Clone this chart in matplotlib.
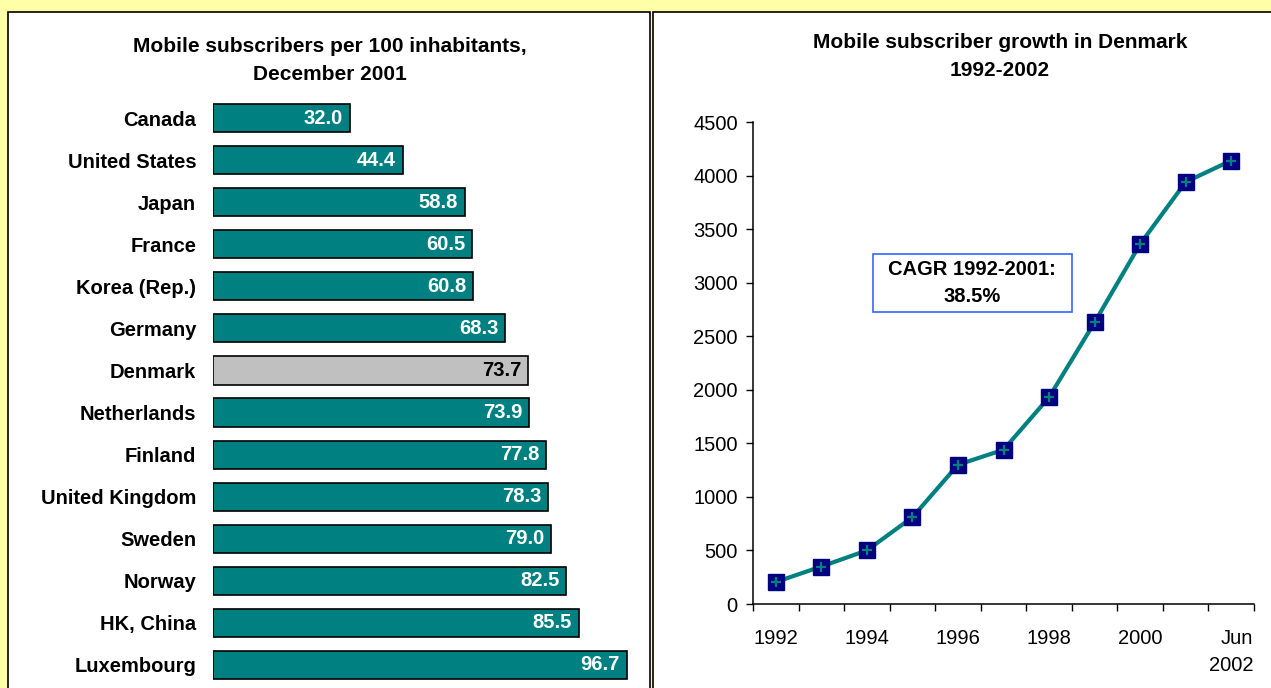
import matplotlib
matplotlib.use("Agg")
import matplotlib.pyplot as plt
from matplotlib.patches import Rectangle
import numpy as np

plt.rcParams['font.family'] = ['Liberation Sans', 'DejaVu Sans']

countries = ["Canada", "United States", "Japan", "France", "Korea (Rep.)", "Germany",
             "Denmark", "Netherlands", "Finland", "United Kingdom", "Sweden", "Norway",
             "HK, China", "Luxembourg"]
subs_per_100 = [32.0, 44.4, 58.8, 60.5, 60.8, 68.3, 73.7, 73.9, 77.8, 78.3, 79.0, 82.5, 85.5, 96.7]
highlight = "Denmark"

years = ["1992", "1993", "1994", "1995", "1996", "1997", "1998", "1999", "2000", "2001", "Jun\n2002"]
subscribers_k = [205, 350, 500, 810, 1300, 1440, 1930, 2630, 3360, 3940, 4140]
year_labels_shown = ["1992", "1994", "1996", "1998", "2000", "Jun\n2002"]
cagr_text = "CAGR 1992-2001:\n38.5%"

W, H = 1271, 688
fig = plt.figure(figsize=(W / 100, H / 100), dpi=100)
fig.patch.set_facecolor("#FFFFA8")

def fx(px):
    return px / W

def fy(py):
    return 1 - py / H

BOLD = 14.5
TITLE = 15
REG = 14.5

# panels (behind axes)
fig.patches.append(Rectangle((fx(8), fy(700)), fx(650) - fx(8), fy(12) - fy(700),
                             transform=fig.transFigure, facecolor="white", edgecolor="black",
                             linewidth=1.2, zorder=-10))
fig.patches.append(Rectangle((fx(653), fy(700)), fx(1290) - fx(653), fy(12) - fy(700),
                             transform=fig.transFigure, facecolor="white", edgecolor="black",
                             linewidth=1.2, zorder=-10))

teal = "#008080"
navy = "#000080"

# ---- left bar chart ----
ax1 = fig.add_axes([fx(213), fy(686), fx(641) - fx(213), fy(97) - fy(686)])
ax1.set_facecolor("none")
n = len(countries)
ypos = np.arange(n)
colors = ["#C0C0C0" if c == highlight else teal for c in countries]
ax1.barh(ypos, subs_per_100, height=0.67, color=colors, edgecolor="black", linewidth=1.2)
ax1.set_xlim(0, 100)
ax1.set_ylim(n - 0.5, -0.5)
ax1.set_yticks(ypos)
ax1.set_yticklabels(countries, fontsize=BOLD, fontweight="bold")
ax1.tick_params(axis="y", length=0, pad=12)
ax1.set_xticks([])
for s in ax1.spines.values():
    s.set_visible(False)
for i, (c, v) in enumerate(zip(countries, subs_per_100)):
    ax1.text(v - 1.6, i, f"{v:.1f}", ha="right", va="center", fontsize=BOLD, fontweight="bold",
             color="black" if c == highlight else "white")

fig.text(fx(330), fy(46), "Mobile subscribers per 100 inhabitants,", ha="center", va="center",
         fontsize=TITLE, fontweight="bold")
fig.text(fx(330), fy(74), "December 2001", ha="center", va="center",
         fontsize=TITLE, fontweight="bold")

# ---- right line chart ----
ax2 = fig.add_axes([fx(753), fy(604), fx(1254) - fx(753), fy(122) - fy(604)])
ax2.set_facecolor("none")
xs = np.arange(len(years))
ax2.plot(xs, subscribers_k, color=teal, linewidth=3.0, zorder=2)
ax2.plot(xs, subscribers_k, linestyle="none", marker="s", markersize=11.5, color=navy,
         markeredgecolor=navy, zorder=3)
ax2.plot(xs, subscribers_k, linestyle="none", marker="+", markersize=7.5, color=teal,
         markeredgewidth=1.6, zorder=4)
ax2.set_xlim(-0.5, len(years) - 0.5)
ax2.set_ylim(0, 4500)
ax2.set_yticks(np.arange(0, 4501, 500))
ax2.tick_params(axis="y", direction="out", length=5, width=1, labelsize=REG, pad=6)
ax2.set_xticks(np.arange(-0.5, len(years), 1.0))
ax2.set_xticklabels([])
ax2.tick_params(axis="x", which="major", direction="out", length=5, width=1)
shown_idx = [years.index(y) for y in year_labels_shown]
ax2.set_xticks(shown_idx, minor=True)
ax2.set_xticklabels(year_labels_shown, minor=True, fontsize=REG, multialignment="right")
ax2.tick_params(axis="x", which="minor", length=0, pad=18)
for lbl in ax2.get_xticklabels(minor=True):
    lbl.set_linespacing(1.55)
ax2.spines["top"].set_visible(False)
ax2.spines["right"].set_visible(False)
for s in ["left", "bottom"]:
    ax2.spines[s].set_linewidth(1.1)

fig.text(fx(1000), fy(42), "Mobile subscriber growth in Denmark", ha="center", va="center",
         fontsize=TITLE, fontweight="bold")
fig.text(fx(1000), fy(70), "1992-2002", ha="center", va="center",
         fontsize=TITLE, fontweight="bold")

# CAGR box
fig.patches.append(Rectangle((fx(873), fy(312)), fx(1072) - fx(873), fy(254) - fy(312),
                             transform=fig.transFigure, facecolor="white", edgecolor="#3366FF",
                             linewidth=1.2, zorder=5))
fig.text(fx(972), fy(283), cagr_text, ha="center", va="center", fontsize=BOLD,
         fontweight="bold", linespacing=1.5, zorder=6)

fig.savefig("out.png", dpi=100, facecolor=fig.get_facecolor())
